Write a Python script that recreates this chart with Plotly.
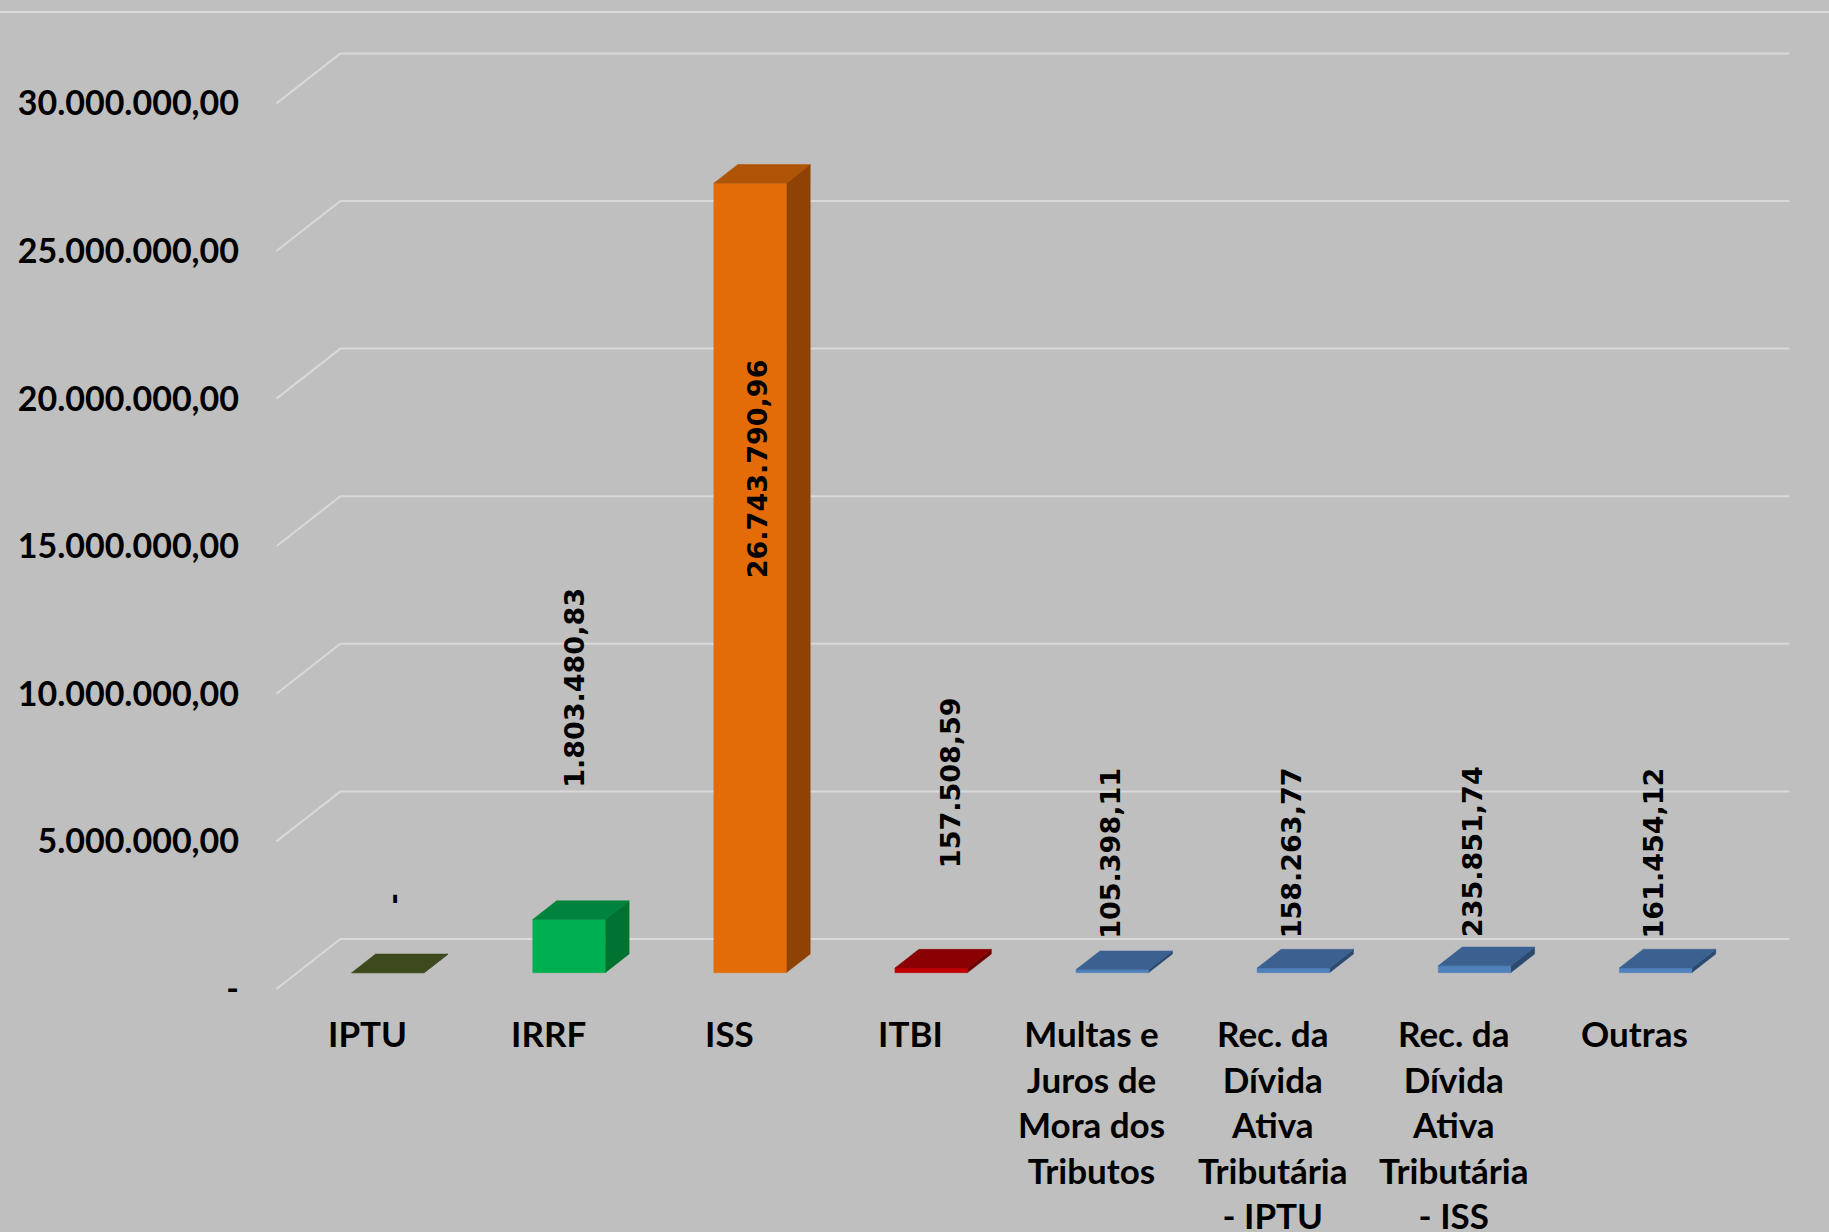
import plotly.graph_objects as go

# ---------------- data ----------------
categories = ["IPTU", "IRRF", "ISS", "ITBI",
              "Multas e Juros de Mora dos Tributos",
              "Rec. da Dívida Ativa Tributária - IPTU",
              "Rec. da Dívida Ativa Tributária - ISS",
              "Outras"]
category_labels = ["IPTU", "IRRF", "ISS", "ITBI",
                   "Multas e<br>Juros de<br>Mora dos<br>Tributos",
                   "Rec. da<br>Dívida<br>Ativa<br>Tributária<br>- IPTU",
                   "Rec. da<br>Dívida<br>Ativa<br>Tributária<br>- ISS",
                   "Outras"]
values = [0, 1803480.83, 26743790.96, 157508.59, 105398.11, 158263.77, 235851.74, 161454.12]
tick_values = [0, 5000000, 10000000, 15000000, 20000000, 25000000, 30000000]
tick_labels = ["-", "5.000.000,00", "10.000.000,00", "15.000.000,00",
               "20.000.000,00", "25.000.000,00", "30.000.000,00"]

# ---------------- styles ----------------
front_colors = ["#4F6228", "#00B050", "#E36C09", "#C00000", "#4F81BD", "#4F81BD", "#4F81BD", "#4F81BD"]
top_colors   = ["#3D4A1E", "#00843C", "#B05407", "#8B0000", "#3A6190", "#3A6190", "#3A6190", "#3A6190"]
side_colors  = ["#2F3A17", "#00722F", "#8E4204", "#700000", "#2C4A70", "#2C4A70", "#2C4A70", "#2C4A70"]
label_lift_px = [47, 111, -416, 79, 10, 9, 8, 9]     # label offset above bar (pixels)
label_dx_px = [26, 27, 28, 41, 19, 19, 19, 19]       # label horizontal offset (pixels)

BG = "#BFBFBF"
GRID = "#D9D9D9"

# ---------------- geometry (pixel mapping) ----------------
W, H = 1829, 1232
L_MARGIN = 240
X0_PX = 367.0          # pixel of first category (front plane)
PX_PER_CAT = 181.1
ZERO_PX = 989.0        # pixel of value 0 on front plane
PX_PER_UNIT = 29.52 / 1e6
DEPTH_PX_X, DEPTH_PX_Y = 64.0, 50.0
DX = DEPTH_PX_X / PX_PER_CAT
DY = DEPTH_PX_Y / PX_PER_UNIT
D0, D1 = 0.326, 0.70   # bar depth span
BAR_W = 0.4

x_range = [(L_MARGIN - X0_PX) / PX_PER_CAT, (W - X0_PX) / PX_PER_CAT]
y_range = [-(H - ZERO_PX) / PX_PER_UNIT, ZERO_PX / PX_PER_UNIT]


def fmt_br(v):
    if v == 0:
        return "-"
    s = f"{v:,.2f}"
    return s.replace(",", "X").replace(".", ",").replace("X", ".")


fig = go.Figure()

# back wall gridlines with left-wall diagonal
n = len(categories)
for g in tick_values:
    fig.add_trace(go.Scatter(
        x=[-0.5, -0.5 + DX, n - 0.5 + DX],
        y=[g, g + DY, g + DY],
        mode="lines", line=dict(color=GRID, width=2),
        hoverinfo="skip", showlegend=False))


def poly(xs, ys, color):
    fig.add_trace(go.Scatter(
        x=xs + [xs[0]], y=ys + [ys[0]], mode="lines", fill="toself",
        fillcolor=color, line=dict(color=color, width=0.5),
        hoverinfo="skip", showlegend=False))


for i, v in enumerate(values):
    x0 = i - BAR_W / 2
    x1 = i + BAR_W / 2
    fx0, fx1 = x0 + D0 * DX, x1 + D0 * DX
    bx0, bx1 = x0 + D1 * DX, x1 + D1 * DX
    fy, by = D0 * DY, D1 * DY
    # side face
    poly([fx1, bx1, bx1, fx1], [fy, by, v + by, v + fy], side_colors[i])
    # front face
    poly([fx0, fx1, fx1, fx0], [fy, fy, v + fy, v + fy], front_colors[i])
    # top face
    poly([fx0, fx1, bx1, bx0], [v + fy, v + fy, v + by, v + by], top_colors[i])

annotations = []
for i, v in enumerate(values):
    annotations.append(dict(
        x=i + label_dx_px[i] / PX_PER_CAT,
        y=v + D1 * DY + label_lift_px[i] / PX_PER_UNIT,
        xref="x", yref="y", text="<b>" + fmt_br(v) + "</b>",
        textangle=-90, showarrow=False, xanchor="center", yanchor="bottom",
        font=dict(family="DejaVu Sans", size=27, color="black")))
    annotations.append(dict(
        x=i, y=-(1010 - ZERO_PX) / PX_PER_UNIT, xref="x", yref="y",
        text="<b>" + category_labels[i] + "</b>", showarrow=False,
        xanchor="center", yanchor="top", align="center",
        font=dict(family="Lato", size=35, color="black")))

fig.update_layout(
    width=W, height=H,
    paper_bgcolor=BG, plot_bgcolor=BG,
    margin=dict(l=L_MARGIN, r=0, t=0, b=0, pad=0),
    xaxis=dict(range=x_range, visible=False, fixedrange=True),
    yaxis=dict(range=y_range, tickvals=tick_values,
               ticktext=["<b>" + t + "</b>" for t in tick_labels],
               tickfont=dict(family="Lato", size=34, color="black"),
               showgrid=False, zeroline=False, showline=False, ticks="",
               automargin=False, fixedrange=True),
    annotations=annotations,
    shapes=[dict(type="line", xref="paper", yref="paper",
                 x0=-L_MARGIN / (W - L_MARGIN), x1=1, y0=1 - 12 / H, y1=1 - 12 / H,
                 line=dict(color=GRID, width=2))],
    showlegend=False,
)

fig.write_html("out.html", config={"displayModeBar": False},
               post_script="document.body.style.margin='0';document.body.style.padding='0';")
